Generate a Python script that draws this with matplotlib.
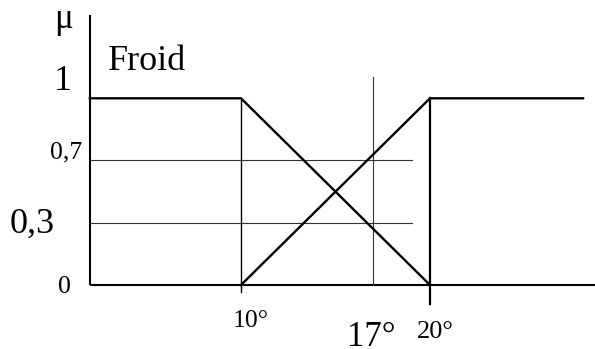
import matplotlib
matplotlib.use("Agg")
from matplotlib import pyplot as plt

plt.rcParams['font.family'] = ['Liberation Serif', 'DejaVu Serif']

# membership functions (temperature in degrees, mu)
froid_x = [2.0, 10, 20]
froid_mu = [1, 1, 0]
chaud_x = [10, 20, 28.1]
chaud_mu = [0, 1, 1]

# measured temperature and the two membership levels read at it
mesure = 17
niveaux = [0.668, 0.33]
niveaux_labels = ['0,7', '0,3']

x_ticks = [10, 17, 20]
x_tick_labels = ['10°', '17°', '20°']

# px -> data scale of the original drawing
PX_X = 18.9
PX_Y = 186.7
X0, Y0 = 52, 285

fig = plt.figure(figsize=(5.95, 3.49), dpi=100)
ax = fig.add_axes([0, 0, 1, 1])
ax.set_xlim(-X0 / PX_X, (595 - X0) / PX_X)
ax.set_ylim(-(349 - Y0) / PX_Y, Y0 / PX_Y)
ax.axis('off')

x_left = froid_x[0]

# axes
ax.plot([x_left, x_left], [0, 1.446], color='black', lw=1.5, solid_capstyle='butt')
ax.plot([x_left, 28.8], [0, 0], color='black', lw=1.5, solid_capstyle='butt')

# helper lines
for lvl in niveaux:
    ax.plot([x_left, 19.05], [lvl, lvl], color='#333333', lw=0.8)
ax.plot([mesure, mesure], [0, 1.112], color='#333333', lw=0.8)
ax.plot([10, 10], [-0.037, 1], color='black', lw=1.0)
ax.plot([20, 20], [-0.1, 1], color='black', lw=1.6)

# membership functions
ax.plot(froid_x, froid_mu, color='black', lw=1.7)
ax.plot(chaud_x, chaud_mu, color='black', lw=1.7)

# labels
big = 26
small = 18.5
ax.annotate('μ', (x_left, 1.446), xytext=(-36, -13), textcoords='offset pixels',
            fontsize=25, ha='left', va='baseline')
ax.annotate('1', (x_left, 1), xytext=(-36, 8), textcoords='offset pixels',
            fontsize=big, ha='left', va='baseline')
ax.annotate('Froid', (x_left, 1), xytext=(18, 28), textcoords='offset pixels',
            fontsize=big, ha='left', va='baseline')
ax.annotate(niveaux_labels[0], (x_left, niveaux[0]), xytext=(-40, 2), textcoords='offset pixels',
            fontsize=small, ha='left', va='baseline')
ax.annotate(niveaux_labels[1], (x_left, niveaux[1]), xytext=(-80, -9), textcoords='offset pixels',
            fontsize=big, ha='left', va='baseline')
ax.annotate('0', (x_left, 0), xytext=(-32, -8), textcoords='offset pixels',
            fontsize=small, ha='left', va='baseline')

tick_offsets = [(-8, -42, small), (-26, -61, 25), (-13, -53, 19)]
for t, lab, (dx, dy, fs) in zip(x_ticks, x_tick_labels, tick_offsets):
    ax.annotate(lab, (t, 0), xytext=(dx, dy), textcoords='offset pixels',
                fontsize=fs, ha='left', va='baseline')

fig.savefig('out.png', dpi=100)
